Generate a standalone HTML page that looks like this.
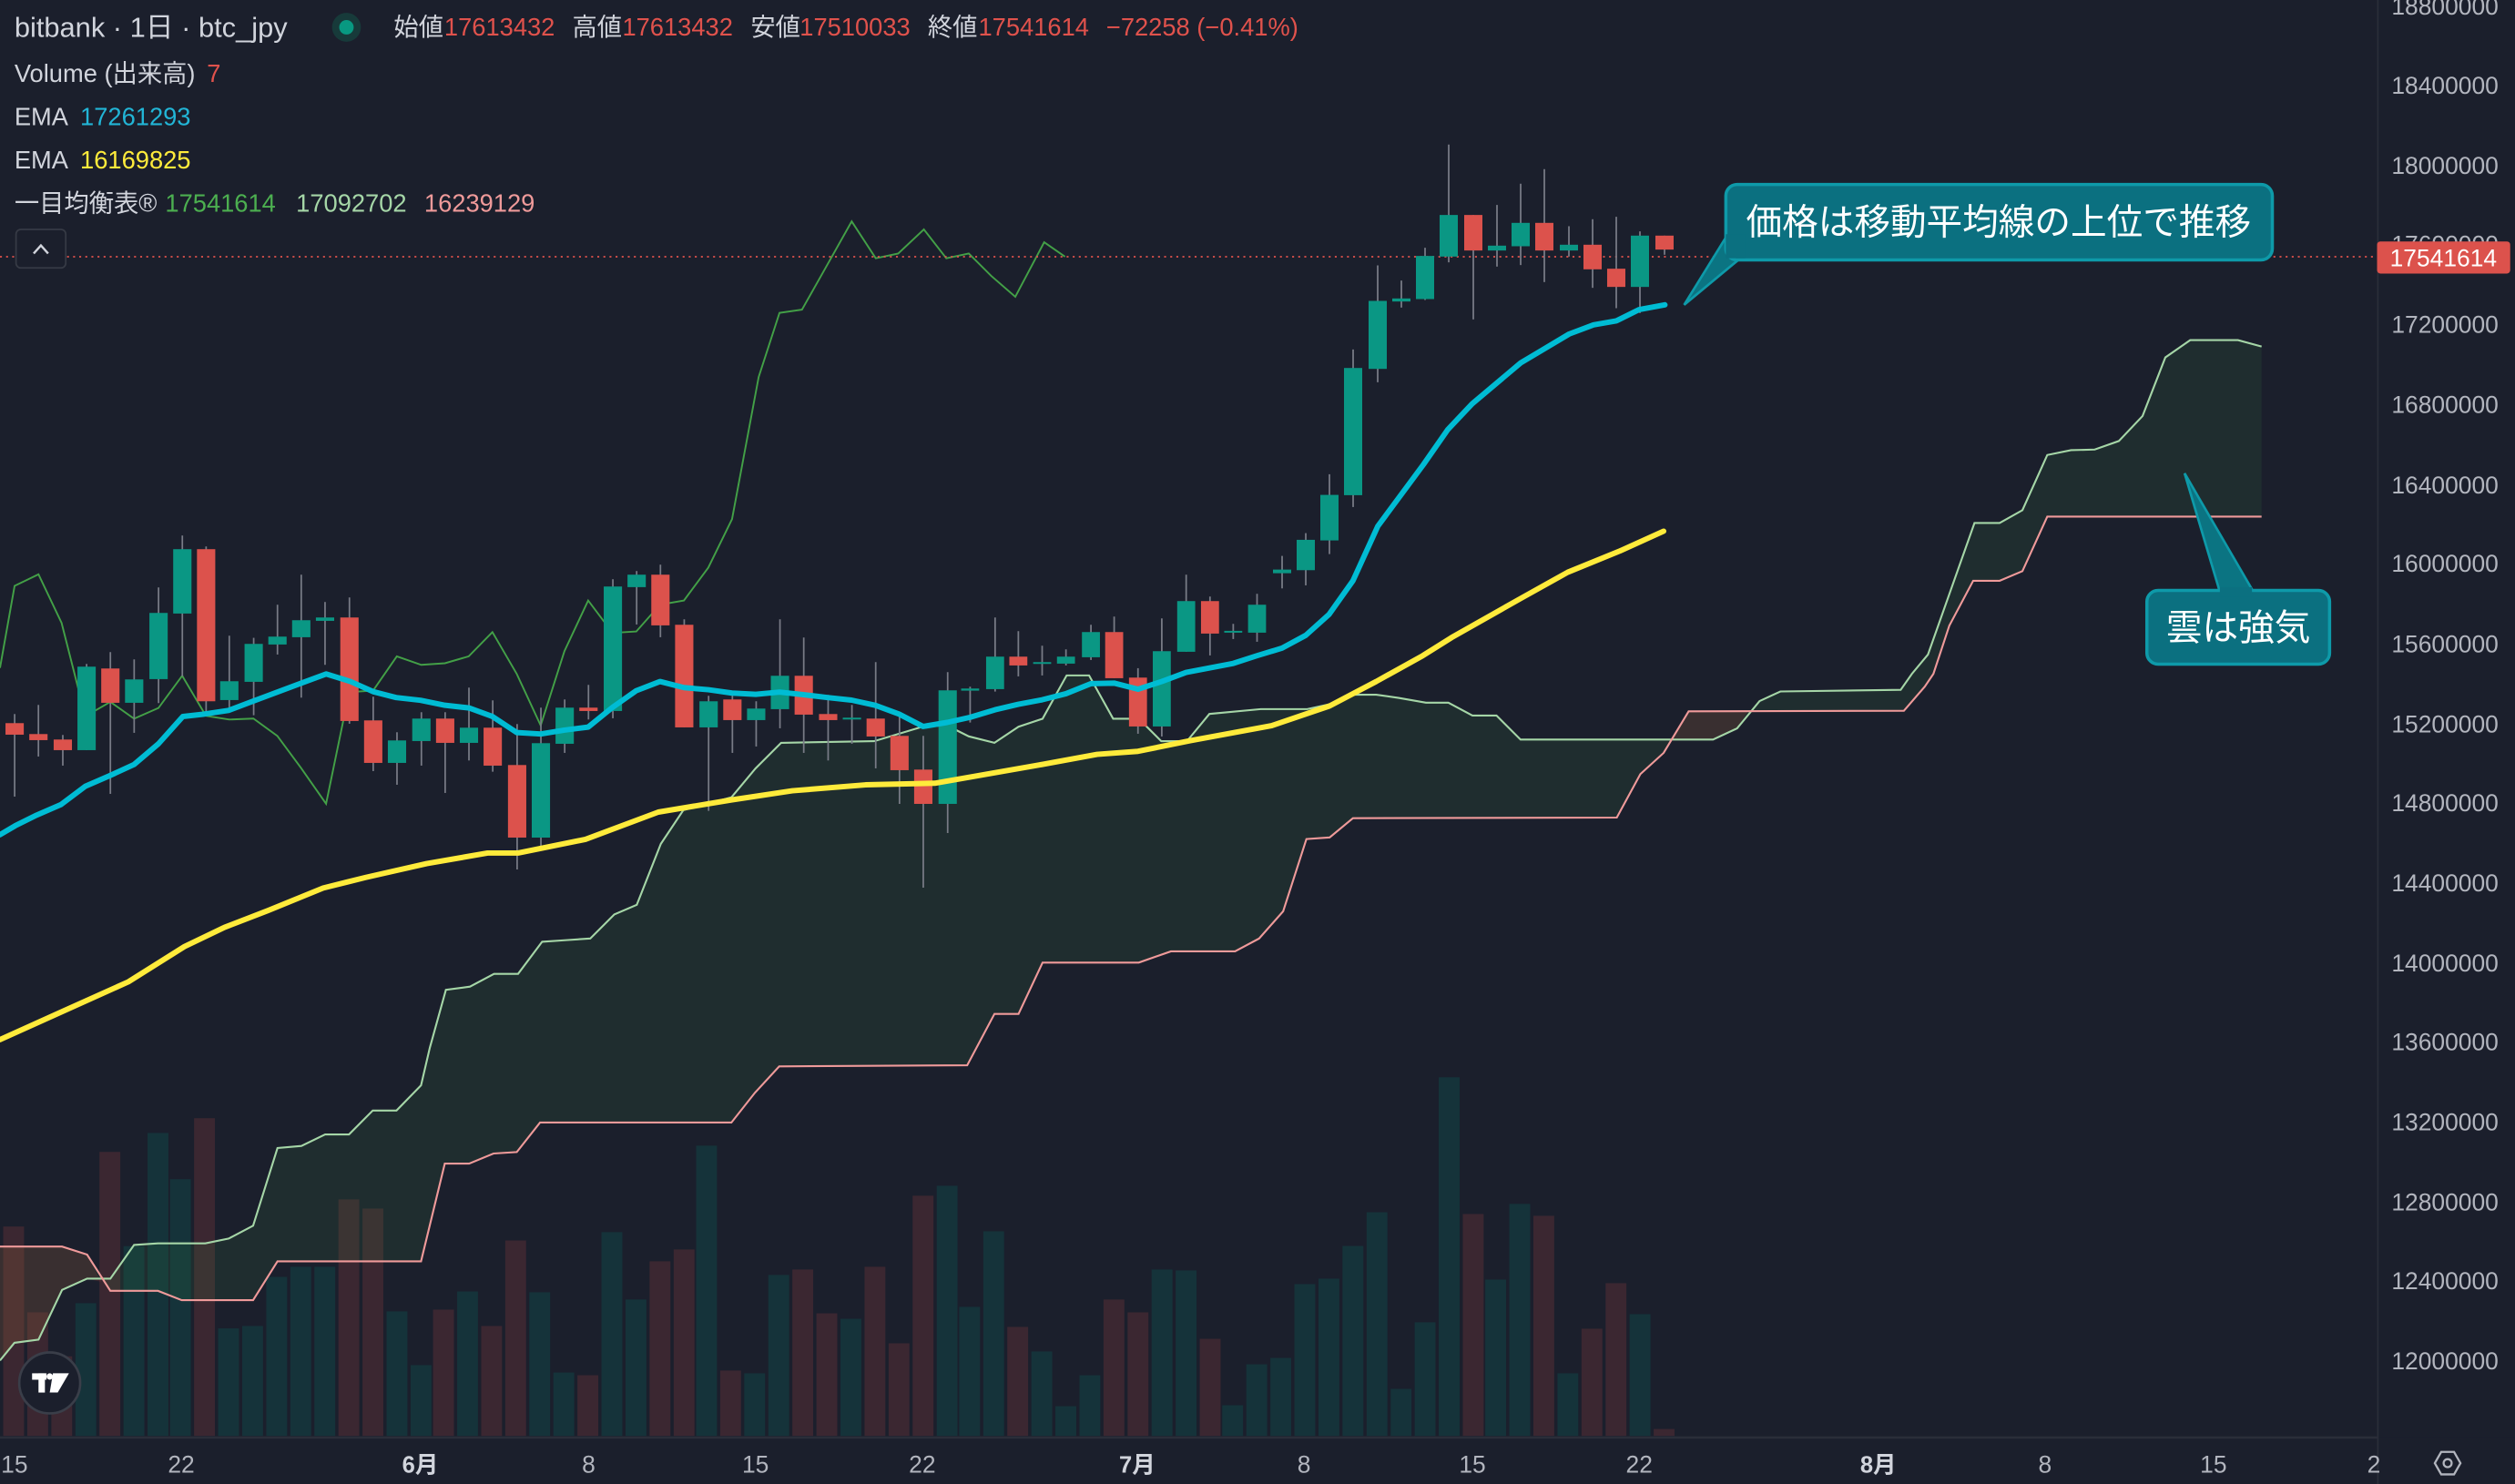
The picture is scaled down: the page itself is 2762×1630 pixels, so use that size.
<!DOCTYPE html>
<html><head><meta charset="utf-8"><style>
html,body{margin:0;padding:0;background:#1b1f2c;overflow:hidden}
svg{display:block}
text{font-family:"Liberation Sans","Noto Sans CJK JP",sans-serif}
.w{fill:#787b86}.g{fill:#0a9784}.r{fill:#dc524c}
.vg{fill:#15333a}.vr{fill:#3b2731}
.ax{fill:#b2b5be;font-size:15px}
</style></head><body>
<svg width="2762" height="1630" viewBox="0 0 1568 925" preserveAspectRatio="none" xmlns="http://www.w3.org/2000/svg">
<rect width="1568" height="925" fill="#1b1f2c"/>

<g>
<rect class="vr" x="2" y="764.5" width="13" height="130.5"/>
<rect class="vr" x="17" y="818" width="13" height="77"/>
<rect class="vr" x="32" y="845.4" width="13" height="49.6"/>
<rect class="vg" x="47" y="812.3" width="13" height="82.7"/>
<rect class="vr" x="62" y="718" width="13" height="177"/>
<rect class="vg" x="77" y="776.7" width="13" height="118.3"/>
<rect class="vg" x="92" y="706.2" width="13" height="188.8"/>
<rect class="vg" x="106" y="735" width="13" height="160"/>
<rect class="vr" x="121" y="697" width="13" height="198"/>
<rect class="vg" x="136" y="828" width="13" height="67"/>
<rect class="vg" x="151" y="826.5" width="13" height="68.5"/>
<rect class="vg" x="166" y="795.9" width="13" height="99.1"/>
<rect class="vg" x="181" y="789.6" width="13" height="105.4"/>
<rect class="vg" x="196" y="789.6" width="13" height="105.4"/>
<rect class="vr" x="211" y="747.6" width="13" height="147.4"/>
<rect class="vr" x="226" y="753.3" width="13" height="141.7"/>
<rect class="vg" x="241" y="817.4" width="13" height="77.6"/>
<rect class="vg" x="256" y="850.9" width="13" height="44.1"/>
<rect class="vr" x="270" y="816.3" width="13" height="78.7"/>
<rect class="vg" x="285" y="805" width="13" height="90"/>
<rect class="vr" x="300" y="826.5" width="13" height="68.5"/>
<rect class="vr" x="315" y="773.2" width="13" height="121.8"/>
<rect class="vg" x="330" y="805.5" width="13" height="89.5"/>
<rect class="vg" x="345" y="855.5" width="13" height="39.5"/>
<rect class="vr" x="360" y="857.2" width="13" height="37.8"/>
<rect class="vg" x="375" y="768" width="13" height="127"/>
<rect class="vg" x="390" y="810" width="13" height="85"/>
<rect class="vr" x="405" y="786.2" width="13" height="108.8"/>
<rect class="vr" x="420" y="778.8" width="13" height="116.2"/>
<rect class="vg" x="434" y="714.1" width="13" height="180.9"/>
<rect class="vr" x="449" y="854.3" width="13" height="40.7"/>
<rect class="vg" x="464" y="856" width="13" height="39"/>
<rect class="vg" x="479" y="794.7" width="13" height="100.3"/>
<rect class="vr" x="494" y="791.3" width="13" height="103.7"/>
<rect class="vr" x="509" y="818.6" width="13" height="76.4"/>
<rect class="vg" x="524" y="822" width="13" height="73"/>
<rect class="vr" x="539" y="789.6" width="13" height="105.4"/>
<rect class="vr" x="554" y="837.3" width="13" height="57.7"/>
<rect class="vr" x="569" y="745.3" width="13" height="149.7"/>
<rect class="vg" x="584" y="739.1" width="13" height="155.9"/>
<rect class="vg" x="598" y="814.6" width="13" height="80.4"/>
<rect class="vg" x="613" y="767.5" width="13" height="127.5"/>
<rect class="vr" x="628" y="827.1" width="13" height="67.9"/>
<rect class="vg" x="643" y="842.4" width="13" height="52.6"/>
<rect class="vg" x="658" y="876.5" width="13" height="18.5"/>
<rect class="vg" x="673" y="857.2" width="13" height="37.8"/>
<rect class="vr" x="688" y="810" width="13" height="85"/>
<rect class="vr" x="703" y="818" width="13" height="77"/>
<rect class="vg" x="718" y="791.3" width="13" height="103.7"/>
<rect class="vg" x="733" y="791.9" width="13" height="103.1"/>
<rect class="vr" x="748" y="834.5" width="13" height="60.5"/>
<rect class="vg" x="762" y="875.9" width="13" height="19.1"/>
<rect class="vg" x="777" y="850.4" width="13" height="44.6"/>
<rect class="vg" x="792" y="846.4" width="13" height="48.6"/>
<rect class="vg" x="807" y="800.4" width="13" height="94.6"/>
<rect class="vg" x="822" y="797" width="13" height="98"/>
<rect class="vg" x="837" y="776.6" width="13" height="118.4"/>
<rect class="vg" x="852" y="755.6" width="13" height="139.4"/>
<rect class="vg" x="867" y="865.7" width="13" height="29.3"/>
<rect class="vg" x="882" y="824.2" width="13" height="70.8"/>
<rect class="vg" x="897" y="671.5" width="13" height="223.5"/>
<rect class="vr" x="912" y="756.7" width="13" height="138.3"/>
<rect class="vg" x="926" y="797.6" width="13" height="97.4"/>
<rect class="vg" x="941" y="750.4" width="13" height="144.6"/>
<rect class="vr" x="956" y="757.8" width="13" height="137.2"/>
<rect class="vg" x="971" y="856" width="13" height="39"/>
<rect class="vr" x="986" y="828.2" width="13" height="66.8"/>
<rect class="vr" x="1001" y="799.8" width="13" height="95.2"/>
<rect class="vg" x="1016" y="819.1" width="13" height="75.9"/>
<rect class="vr" x="1031" y="890.7" width="13" height="4.3"/>
</g>

<polygon fill="rgba(67,160,71,0.11)" points="0,848 9,837 24,835 38.7,804 54.3,797 68.8,797 83.6,776 98.5,775 128,775 142.6,772 157.8,764 173,715.6 187.9,714.3 202.7,707.1 217.6,707.1 232.4,692.2 247.2,692.2 262.5,676.5 268,653 278,617 293,615 308,607 323,607 338,587 353,586 368,585 383,570 397,564 412,526 426,505 456,497 471,479 487,463 545,462 575,453 590,452 604,459 620,463 635,453 650,448 665,421 679,421 694,448 710,448 724,462 740,462 754,445 786,442 815,442 829,439 844,433 858,433 872,435 889,438 903,438 918,446 933,446 948,461 1068,461 1083,454 1097,437 1110,431 1185,430 1192,420 1202,408 1231,326 1246.7,326 1260.9,318 1276.4,283.6 1291.2,280.6 1306,280.2 1321,274.9 1335.8,259.3 1350,222.8 1365.5,212 1395.3,212 1410,216 1410,322 1276.4,322 1260.9,356 1246.7,362 1230.2,362 1215.3,390 1205.4,420 1200,428 1187,443 1052.8,443.4 1037.2,469.3 1022.7,482.5 1008,509.6 843.5,510 829,522 814.5,523 800,568 785,585 770,593 730,593 710,600 650,600 635,632 620,632 603,664 485.8,664.7 470.6,681.2 456,699.7 336.7,699.7 322.2,718.1 307.7,719 292.5,725.3 277.3,725.3 262.5,786.2 173,786.2 157.8,810.4 113.3,810.4 98.5,804.6 68.8,804.6 54.3,782 38.7,777 0,777"/>
<polygon fill="rgba(244,67,54,0.12)" points="0,777 38.7,777 54.3,782 63,799 54.3,797 38.7,804 24,835 9,837 0,848"/>
<polygon fill="rgba(244,67,54,0.12)" points="1042,461 1052.8,443.4 1090,443 1083,454 1068,461"/>
<polyline fill="none" stroke="#a5d6a7" stroke-width="1.2" points="0,848 9,837 24,835 38.7,804 54.3,797 68.8,797 83.6,776 98.5,775 128,775 142.6,772 157.8,764 173,715.6 187.9,714.3 202.7,707.1 217.6,707.1 232.4,692.2 247.2,692.2 262.5,676.5 268,653 278,617 293,615 308,607 323,607 338,587 353,586 368,585 383,570 397,564 412,526 426,505 456,497 471,479 487,463 545,462 575,453 590,452 604,459 620,463 635,453 650,448 665,421 679,421 694,448 710,448 724,462 740,462 754,445 786,442 815,442 829,439 844,433 858,433 872,435 889,438 903,438 918,446 933,446 948,461 1068,461 1083,454 1097,437 1110,431 1185,430 1192,420 1202,408 1231,326 1246.7,326 1260.9,318 1276.4,283.6 1291.2,280.6 1306,280.2 1321,274.9 1335.8,259.3 1350,222.8 1365.5,212 1395.3,212 1410,216"/>
<polyline fill="none" stroke="#ef9a9a" stroke-width="1.2" points="0,777 38.7,777 54.3,782 68.8,804.6 98.5,804.6 113.3,810.4 157.8,810.4 173,786.2 262.5,786.2 277.3,725.3 292.5,725.3 307.7,719 322.2,718.1 336.7,699.7 456,699.7 470.6,681.2 485.8,664.7 603,664 620,632 635,632 650,600 710,600 730,593 770,593 785,585 800,568 814.5,523 829,522 843.5,510 1008,509.6 1022.7,482.5 1037.2,469.3 1052.8,443.4 1187,443 1200,428 1205.4,420 1215.3,390 1230.2,362 1246.7,362 1260.9,356 1276.4,322 1410,322"/>

<polyline fill="none" stroke="#43a047" stroke-width="1.1" points="0,416.3 9.1,365.2 24,358 38.4,388.3 53.2,446.5 68.8,437.5 83.6,448 98.8,441.3 113.6,421.2 128.4,446.2 142.9,448.5 158,447.9 172.9,458.7 187.7,478.7 203.3,501 217.7,431.4 232.6,430.5 247.4,409.1 262.6,414.4 277.4,413.4 292.2,409.1 307,394 322.2,420.1 337.1,452.2 351.9,405.9 366.7,374.3 381.9,394.5 396.7,393.6 411.5,376.9 426.4,374.3 441.6,353.8 456.4,323.6 473,235 486,195 500,193 513,170 531,138 546,161 560,158 576,143 590,161 604,158 618,172 633,185 651,151 664,160"/>

<line x1="0" y1="160" x2="1482" y2="160" stroke="#e0524c" stroke-width="1" stroke-dasharray="1.2 2.6"/>

<g transform="translate(0,317.9) scale(0.3802,0.18923)">
<rect class="w" x="22.7" y="672" width="2.6" height="272"/><rect class="r" x="9" y="702" width="30" height="38"/>
<rect class="w" x="61.7" y="642" width="2.6" height="170"/><rect class="r" x="48" y="738" width="30" height="20"/>
<rect class="w" x="101.7" y="741" width="2.6" height="101"/><rect class="r" x="88" y="756" width="30" height="35"/>
<rect class="w" x="140.7" y="507" width="2.6" height="284"/><rect class="g" x="127" y="516" width="30" height="275"/>
<rect class="w" x="179.7" y="468" width="2.6" height="467"/><rect class="r" x="166" y="522" width="30" height="113"/>
<rect class="w" x="218.7" y="492" width="2.6" height="242"/><rect class="g" x="205" y="558" width="30" height="77"/>
<rect class="w" x="258.7" y="255" width="2.6" height="381"/><rect class="g" x="245" y="339" width="30" height="218"/>
<rect class="w" x="297.7" y="84" width="2.6" height="464"/><rect class="g" x="284" y="129" width="30" height="212"/>
<rect class="w" x="336.7" y="120" width="2.6" height="548"/><rect class="r" x="323" y="129" width="30" height="501"/>
<rect class="w" x="374.7" y="414" width="2.6" height="236"/><rect class="g" x="361" y="564" width="30" height="62"/>
<rect class="w" x="414.7" y="421" width="2.6" height="255"/><rect class="g" x="401" y="441" width="30" height="125"/>
<rect class="w" x="453.7" y="312" width="2.6" height="164"/><rect class="g" x="440" y="417" width="30" height="26"/>
<rect class="w" x="492.7" y="213" width="2.6" height="405"/><rect class="g" x="479" y="363" width="30" height="56"/>
<rect class="w" x="531.7" y="303" width="2.6" height="207"/><rect class="g" x="518" y="354" width="30" height="11"/>
<rect class="w" x="571.7" y="288" width="2.6" height="416"/><rect class="r" x="558" y="354" width="30" height="341"/>
<rect class="w" x="610.7" y="615" width="2.6" height="245"/><rect class="r" x="597" y="693" width="30" height="140"/>
<rect class="w" x="649.7" y="732" width="2.6" height="173"/><rect class="g" x="636" y="759" width="30" height="74"/>
<rect class="w" x="689.7" y="666" width="2.6" height="176"/><rect class="g" x="676" y="687" width="30" height="74"/>
<rect class="w" x="728.7" y="666" width="2.6" height="266"/><rect class="r" x="715" y="687" width="30" height="80"/>
<rect class="w" x="767.7" y="585" width="2.6" height="240"/><rect class="g" x="754" y="717" width="30" height="50"/>
<rect class="w" x="806.7" y="627" width="2.6" height="235"/><rect class="r" x="793" y="717" width="30" height="125"/>
<rect class="w" x="846.7" y="705" width="2.6" height="479"/><rect class="r" x="833" y="840" width="30" height="239"/>
<rect class="w" x="885.7" y="651" width="2.6" height="461"/><rect class="g" x="872" y="768" width="30" height="311"/>
<rect class="w" x="924.7" y="624" width="2.6" height="176"/><rect class="g" x="911" y="651" width="30" height="119"/>
<rect class="w" x="963.7" y="576" width="2.6" height="114"/><rect class="r" x="950" y="651" width="30" height="11"/>
<rect class="w" x="1003.7" y="228" width="2.6" height="458"/><rect class="g" x="990" y="252" width="30" height="410"/>
<rect class="w" x="1042.7" y="201" width="2.6" height="176"/><rect class="g" x="1029" y="213" width="30" height="41"/>
<rect class="w" x="1081.7" y="180" width="2.6" height="239"/><rect class="r" x="1068" y="213" width="30" height="167"/>
<rect class="w" x="1120.7" y="360" width="2.6" height="356"/><rect class="r" x="1107" y="378" width="30" height="338"/>
<rect class="w" x="1160.7" y="612" width="2.6" height="379"/><rect class="g" x="1147" y="630" width="30" height="86"/>
<rect class="w" x="1199.7" y="600" width="2.6" height="200"/><rect class="r" x="1186" y="624" width="30" height="68"/>
<rect class="w" x="1238.7" y="630" width="2.6" height="149"/><rect class="g" x="1225" y="654" width="30" height="38"/>
<rect class="w" x="1277.7" y="360" width="2.6" height="359"/><rect class="g" x="1264" y="546" width="30" height="110"/>
<rect class="w" x="1316.7" y="420" width="2.6" height="380"/><rect class="r" x="1303" y="546" width="30" height="128"/>
<rect class="w" x="1356.7" y="609" width="2.6" height="216"/><rect class="r" x="1343" y="672" width="30" height="20"/>
<rect class="w" x="1395.7" y="642" width="2.6" height="128"/><rect class="g" x="1382" y="684" width="30" height="6"/>
<rect class="w" x="1434.7" y="501" width="2.6" height="350"/><rect class="r" x="1421" y="687" width="30" height="59"/>
<rect class="w" x="1473.7" y="678" width="2.6" height="290"/><rect class="r" x="1460" y="744" width="30" height="113"/>
<rect class="w" x="1512.7" y="744" width="2.6" height="500"/><rect class="r" x="1499" y="855" width="30" height="113"/>
<rect class="w" x="1552.7" y="534" width="2.6" height="530"/><rect class="g" x="1539" y="594" width="30" height="374"/>
</g>
<g transform="translate(539.3,317.9) scale(0.3621,0.18923)">
<rect class="w" x="179.6" y="582" width="2.8" height="118"/><rect class="g" x="165.5" y="588" width="31" height="7"/>
<rect class="w" x="222.6" y="354" width="2.8" height="244"/><rect class="g" x="208.5" y="483" width="31" height="107"/>
<rect class="w" x="262.6" y="399" width="2.8" height="149"/><rect class="r" x="248.5" y="483" width="31" height="29"/>
<rect class="w" x="303.6" y="447" width="2.8" height="98"/><rect class="g" x="289.5" y="501" width="31" height="6"/>
<rect class="w" x="344.6" y="459" width="2.8" height="53"/><rect class="g" x="330.5" y="483" width="31" height="23"/>
<rect class="w" x="387.6" y="378" width="2.8" height="116"/><rect class="g" x="373.5" y="402" width="31" height="83"/>
<rect class="w" x="427.6" y="351" width="2.8" height="203"/><rect class="r" x="413.5" y="402" width="31" height="152"/>
<rect class="w" x="468.6" y="521" width="2.8" height="216"/><rect class="r" x="454.5" y="552" width="31" height="161"/>
<rect class="w" x="509.6" y="357" width="2.8" height="389"/><rect class="g" x="495.5" y="465" width="31" height="248"/>
<rect class="w" x="551.6" y="213" width="2.8" height="254"/><rect class="g" x="537.5" y="300" width="31" height="167"/>
<rect class="w" x="592.6" y="285" width="2.8" height="194"/><rect class="r" x="578.5" y="300" width="31" height="107"/>
<rect class="w" x="632.6" y="375" width="2.8" height="50"/><rect class="g" x="618.5" y="398" width="31" height="6"/>
<rect class="w" x="673.6" y="276" width="2.8" height="158"/><rect class="g" x="659.5" y="312" width="31" height="92"/>
</g>
<g transform="translate(766.4,79.5) scale(0.18923)">
<rect class="w" x="171.4" y="1411" width="5.3" height="107"/><rect class="g" x="144" y="1456" width="60" height="12"/>
<rect class="w" x="249.4" y="1336" width="5.3" height="172"/><rect class="g" x="222" y="1358" width="60" height="100"/>
<rect class="w" x="327.4" y="1142" width="5.3" height="263"/><rect class="g" x="300" y="1210" width="60" height="150"/>
<rect class="w" x="405.4" y="731" width="5.3" height="519"/><rect class="g" x="378" y="792" width="60" height="419"/>
<rect class="w" x="486.4" y="454" width="5.3" height="385"/><rect class="g" x="459" y="571" width="60" height="224"/>
<rect class="w" x="564.4" y="504" width="5.3" height="89"/><rect class="g" x="537" y="563" width="60" height="10"/>
<rect class="w" x="642.4" y="396" width="5.3" height="172"/><rect class="g" x="615" y="423" width="60" height="142"/>
<rect class="w" x="720.4" y="56" width="5.3" height="388"/><rect class="g" x="693" y="288" width="60" height="137"/>
<rect class="w" x="801.4" y="288" width="5.3" height="344"/><rect class="r" x="774" y="288" width="60" height="117"/>
<rect class="w" x="879.4" y="255" width="5.3" height="203"/><rect class="g" x="852" y="389" width="60" height="16"/>
<rect class="w" x="957.4" y="185" width="5.3" height="268"/><rect class="g" x="930" y="314" width="60" height="77"/>
<rect class="w" x="1035.4" y="137" width="5.3" height="372"/><rect class="r" x="1008" y="314" width="60" height="91"/>
<rect class="w" x="1116.4" y="325" width="5.3" height="100"/><rect class="g" x="1089" y="386" width="60" height="19"/>
<rect class="w" x="1194.4" y="302" width="5.3" height="226"/><rect class="r" x="1167" y="386" width="60" height="81"/>
<rect class="w" x="1272.4" y="294" width="5.3" height="301"/><rect class="r" x="1245" y="465" width="60" height="60"/>
<rect class="w" x="1350.4" y="342" width="5.3" height="269"/><rect class="g" x="1323" y="356" width="60" height="169"/>
<rect class="w" x="1431.4" y="356" width="5.3" height="63"/><rect class="r" x="1404" y="356" width="60" height="46"/>
</g>

<polyline fill="none" stroke="#ffeb3b" stroke-width="3.4" stroke-linejoin="round" stroke-linecap="round" points="0,648 40,630 80,612 115,590 140,578 167,567.6 201.5,553.5 228,546.9 266,538.3 304,531.7 323,531.7 365,523.2 410.4,506.2 456,498.6 494,492.9 539.6,489.2 582.8,488.2 648,476.8 684,470.2 709.5,468.3 742,461.7 792.8,452.3 829,440 858,424.8 887,408.7 905,397.4 948.5,372.8 977.4,356.7 1010,343.4 1037.2,331.1"/>
<polyline fill="none" stroke="#00bcd4" stroke-width="3.4" stroke-linejoin="round" stroke-linecap="round" points="0,520.3 9.5,514.7 22.8,508.1 38,501.5 53.2,490.1 68.4,483.5 83.6,476.5 98.8,463.6 114,446.6 127.3,445.1 142.5,442.8 157.7,437.1 172.9,431.4 188.1,425.7 203.3,420.1 218.5,424.8 232.6,431.1 247,434.8 262.2,436.5 277.4,439.6 292.6,441.3 307,446.6 322.2,456.6 337.1,457.5 351.9,455.1 366.7,453.2 381.9,440.9 396.7,430.5 411.5,424.8 426.4,428.6 441.6,429.9 456.4,432 471.2,432.8 486,431.4 500.8,433 516,434.8 530.9,436.4 545.7,439.6 560.5,445.1 575.5,452.8 590.5,450.3 604.8,447.1 620.4,442.4 634.9,439 649.7,436.2 664.6,432.4 680.2,426.1 694.6,425.8 709.5,429.6 724.3,424.8 739.5,419.1 754.4,416.3 768.9,413.5 783.7,408.7 799.3,404 814.1,396 828.6,383 843.5,362 859,328 887.5,289.5 902.6,267.8 917.8,251.7 948.1,226.2 978.3,208.2 993.5,202.5 1007.7,200 1021.9,193 1038,190"/>

<polygon points="1076,148 1085,161 1050,190" fill="#0b7482" stroke="#0e9aa9" stroke-width="1.5"/>
<rect x="1076" y="115" width="340.7" height="47" rx="7" fill="#0b7080" stroke="#0e9aa9" stroke-width="2"/>
<rect x="1076" y="146" width="12" height="15" fill="#0b7080"/>
<text x="1246" y="146" text-anchor="middle" fill="#ffffff" font-size="22.5">価格は移動平均線の上位で推移</text>
<polygon points="1384,369 1405,369 1362,295" fill="#0b7482" stroke="#0e9aa9" stroke-width="1.5"/>
<rect x="1338.5" y="368" width="113.9" height="46" rx="7" fill="#0b7080" stroke="#0e9aa9" stroke-width="2"/>
<rect x="1384" y="366" width="20" height="6" fill="#0b7080"/>
<text x="1395.5" y="399" text-anchor="middle" fill="#ffffff" font-size="22.5">雲は強気</text>

<rect x="1482" y="0" width="86" height="925" fill="#1b1f2c"/>
<rect x="0" y="896" width="1568" height="29" fill="#1b1f2c"/>
<line x1="1482.5" y1="0" x2="1482.5" y2="925" stroke="#2a2e39" stroke-width="1"/>
<line x1="0" y1="896" x2="1482" y2="896" stroke="#2a2e39" stroke-width="1.5"/>
<g>
<text class="ax" x="1491" y="9">18800000</text>
<text class="ax" x="1491" y="58.5">18400000</text>
<text class="ax" x="1491" y="108.5">18000000</text>
<text class="ax" x="1491" y="157.5">17600000</text>
<text class="ax" x="1491" y="207.5">17200000</text>
<text class="ax" x="1491" y="257.5">16800000</text>
<text class="ax" x="1491" y="307.5">16400000</text>
<text class="ax" x="1491" y="356.5">16000000</text>
<text class="ax" x="1491" y="406.5">15600000</text>
<text class="ax" x="1491" y="456.5">15200000</text>
<text class="ax" x="1491" y="505.5">14800000</text>
<text class="ax" x="1491" y="555.5">14400000</text>
<text class="ax" x="1491" y="605.5">14000000</text>
<text class="ax" x="1491" y="654.5">13600000</text>
<text class="ax" x="1491" y="704.5">13200000</text>
<text class="ax" x="1491" y="754.5">12800000</text>
<text class="ax" x="1491" y="803.5">12400000</text>
<text class="ax" x="1491" y="853.5">12000000</text>
</g>
<rect x="1482" y="150.5" width="83" height="20" rx="2" fill="#dc524c"/>
<text x="1490" y="166" fill="#ffffff" font-size="15">17541614</text>

<g text-anchor="middle" font-size="14.5" fill="#b2b5be">
<text class="ax" x="9" y="918" text-anchor="middle">15</text>
<text class="ax" x="113" y="918" text-anchor="middle">22</text>
<text x="262" y="918" fill="#d1d4dc" font-weight="bold" font-size="14.5">6月</text>
<text class="ax" x="367" y="918" text-anchor="middle">8</text>
<text class="ax" x="471" y="918" text-anchor="middle">15</text>
<text class="ax" x="575" y="918" text-anchor="middle">22</text>
<text x="709" y="918" fill="#d1d4dc" font-weight="bold" font-size="14.5">7月</text>
<text class="ax" x="813" y="918" text-anchor="middle">8</text>
<text class="ax" x="918" y="918" text-anchor="middle">15</text>
<text class="ax" x="1022" y="918" text-anchor="middle">22</text>
<text x="1171" y="918" fill="#d1d4dc" font-weight="bold" font-size="14.5">8月</text>
<text class="ax" x="1275" y="918" text-anchor="middle">8</text>
<text class="ax" x="1380" y="918" text-anchor="middle">15</text>
<text class="ax" x="1480" y="918" text-anchor="middle">2</text>
</g>
<g transform="translate(1526,912)" fill="none" stroke="#b2b5be" stroke-width="1.3">
<polygon points="-8,0 -4,-7 4,-7 8,0 4,7 -4,7"/><circle r="2.5"/>
</g>
<circle cx="31" cy="862" r="19" fill="#1b1f2c" stroke="#3a3e49" stroke-width="1.5"/>
<g fill="#ffffff">
<rect x="20" y="856" width="9" height="4"/><rect x="24" y="856" width="4" height="12"/>
<polygon points="33,856 43,856 36,868 31,868"/><circle cx="31" cy="858" r="2"/>
</g>

<g font-size="15.5">
<text x="9" y="23" fill="#d1d4dc" font-size="17.5">bitbank · 1日 · btc_jpy</text>
<circle cx="216" cy="17" r="9" fill="#173a3a"/><circle cx="216" cy="17" r="4.5" fill="#089981"/>
<text x="245.5" y="22" fill="#d1d4dc">始値</text><text x="277" y="22" fill="#e0524c">17613432</text>
<text x="356.8" y="22" fill="#d1d4dc">高値</text><text x="388" y="22" fill="#e0524c">17613432</text>
<text x="468" y="22" fill="#d1d4dc">安値</text><text x="498.6" y="22" fill="#e0524c">17510033</text>
<text x="578.4" y="22" fill="#d1d4dc">終値</text><text x="610" y="22" fill="#e0524c">17541614</text>
<text x="689.7" y="22" fill="#e0524c">−72258 (−0.41%)</text>
<text x="9" y="51" fill="#d1d4dc">Volume (出来高)</text><text x="129" y="51" fill="#e0524c">7</text>
<text x="9" y="78" fill="#d1d4dc">EMA</text><text x="50" y="78" fill="#22b5d6">17261293</text>
<text x="9" y="105" fill="#d1d4dc">EMA</text><text x="50" y="105" fill="#ffeb3b">16169825</text>
<text x="9" y="132" fill="#d1d4dc">一目均衡表®</text>
<text x="103" y="132" fill="#4caf50">17541614</text>
<text x="184.6" y="132" fill="#a5d6a7">17092702</text>
<text x="264.5" y="132" fill="#ef9a9a">16239129</text>
</g>
<rect x="10" y="143" width="31" height="24" rx="3" fill="#1b1f2c" stroke="#363a45" stroke-width="1"/>
<polyline points="21,158 25.5,153 30,158" fill="none" stroke="#d1d4dc" stroke-width="1.4"/>
</svg>
</body></html>
